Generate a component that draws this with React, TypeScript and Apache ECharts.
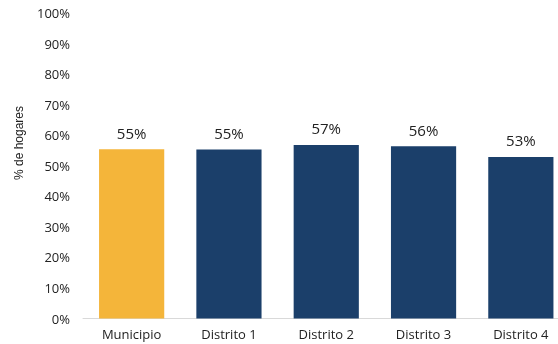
import React, { useEffect, useRef } from "react";
import * as echarts from "echarts";

const categories = ["Municipio", "Distrito 1", "Distrito 2", "Distrito 3", "Distrito 4"];
const values = [55.4, 55.3, 56.8, 56.4, 52.9];
const barColors = ["#F4B53A", "#1B3F6A", "#1B3F6A", "#1B3F6A", "#1B3F6A"];
const yTicks = [0, 10, 20, 30, 40, 50, 60, 70, 80, 90, 100];

export default function App() {
  const ref = useRef<HTMLDivElement>(null);
  useEffect(() => {
    if (!ref.current) return;
    const chart = echarts.init(ref.current, null, { renderer: "svg" });
    const font = "Open Sans";
    chart.setOption({
      animation: false,
      grid: { left: 83, top: 13, right: 10.5, bottom: 25.5, containLabel: false },
      xAxis: {
        type: "category",
        data: categories,
        axisLine: { show: true, lineStyle: { color: "#D9D9D9", width: 1 } },
        axisTick: { show: false },
        axisLabel: { color: "#222", fontSize: 13, fontFamily: font, margin: 9 },
      },
      yAxis: {
        type: "value",
        min: yTicks[0],
        max: yTicks[yTicks.length - 1],
        interval: 10,
        splitLine: { show: false },
        axisLine: { show: false },
        axisTick: { show: false },
        axisLabel: { color: "#222", fontSize: 13, fontFamily: font, margin: 13, formatter: (v: number) => v + "%" },
      },
      graphic: [
        {
          type: "text",
          x: 19,
          y: 143,
          rotation: Math.PI / 2,
          style: {
            text: "% de hogares",
            fill: "#222",
            font: "12px 'Liberation Sans'",
            textAlign: "center",
            textVerticalAlign: "middle",
          },
        },
      ],
      series: [
        {
          type: "bar",
          barWidth: "67%",
          data: values.map((v, i) => ({ value: v, itemStyle: { color: barColors[i] } })),
          label: {
            show: true,
            position: "top",
            distance: 9,
            color: "#222",
            fontSize: 15,
            fontFamily: font,
            formatter: (p: any) => Math.round(p.value) + "%",
          },
        },
      ],
    });
    return () => chart.dispose();
  }, []);
  return (
    <div style={{ position: "fixed", left: 0, top: 0, width: 558, height: 344, overflow: "hidden" }}>
      <div ref={ref} style={{ width: 580, height: 344 }} />
    </div>
  );
}
